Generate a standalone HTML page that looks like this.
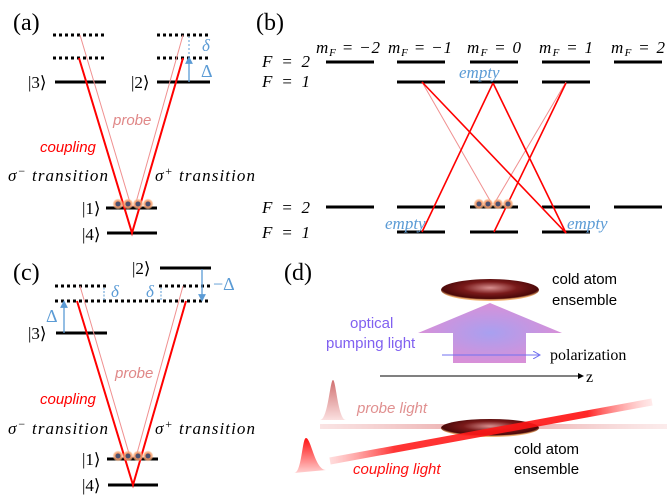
<!DOCTYPE html>
<html><head><meta charset="utf-8"><style>
html,body{margin:0;padding:0;background:#fff;width:667px;height:501px;overflow:hidden}
svg{display:block}
.s{font-family:"Liberation Serif",serif}
.m{font-family:"Liberation Serif",serif;font-style:italic;font-size:17px}
.k{font-family:"Liberation Serif",serif;font-size:17px}
.c{font-family:"Liberation Sans",sans-serif}
</style></head><body>
<svg width="667" height="501" viewBox="0 0 667 501" xmlns="http://www.w3.org/2000/svg">
<defs>
<radialGradient id="atom"><stop offset="0" stop-color="#4a5070"/><stop offset="0.4" stop-color="#4a5070"/><stop offset="0.5" stop-color="#f09060"/><stop offset="0.8" stop-color="#f8b080" stop-opacity="0.7"/><stop offset="1" stop-color="#f8c8a0" stop-opacity="0"/></radialGradient>
<radialGradient id="ell" cx="0.5" cy="0.4" r="0.55"><stop offset="0" stop-color="#d89090"/><stop offset="0.5" stop-color="#7a1a1a"/><stop offset="0.9" stop-color="#4a0808"/><stop offset="1" stop-color="#f0b070"/></radialGradient>
<radialGradient id="arr" cx="0.5" cy="0.5" r="0.5"><stop offset="0" stop-color="#a8a0f0"/><stop offset="1" stop-color="#d890d8"/></radialGradient>
<linearGradient id="probeG" x1="0" x2="1"><stop offset="0" stop-color="#f4c8c8" stop-opacity="0.5"/><stop offset="0.5" stop-color="#e8a0a0"/><stop offset="1" stop-color="#f8d8d8" stop-opacity="0.5"/></linearGradient>
<linearGradient id="coupG" x1="0" x2="1"><stop offset="0" stop-color="#ff8080" stop-opacity="0.3"/><stop offset="0.2" stop-color="#ff2020"/><stop offset="0.8" stop-color="#ff1010"/><stop offset="1" stop-color="#ffb0b0" stop-opacity="0.3"/></linearGradient>
<linearGradient id="pp" x1="0" y1="0" x2="0" y2="1"><stop offset="0" stop-color="#d07070"/><stop offset="1" stop-color="#fbe0e0"/></linearGradient>
<linearGradient id="cp" x1="0" y1="0" x2="0" y2="1"><stop offset="0" stop-color="#ff1010"/><stop offset="1" stop-color="#ffd0d0"/></linearGradient>
<marker id="ab" markerWidth="6" markerHeight="6" refX="3" refY="3" orient="auto"><path d="M0,0 L6,3 L0,6z" fill="#5b9bd5"/></marker>
<marker id="ak" markerWidth="6" markerHeight="6" refX="5" refY="3" orient="auto"><path d="M0,0 L6,3 L0,6z" fill="#000"/></marker>
<marker id="ap" markerWidth="8" markerHeight="8" refX="7" refY="4" orient="auto"><path d="M0,0 L7,4 L0,8" fill="none" stroke="#7070f0"/></marker>
</defs>

<!-- (a) -->
<text x="13" y="30" class="s" font-size="24">(a)</text>
<g stroke="#000" stroke-width="3" stroke-dasharray="3,3"><line x1="53" y1="35" x2="106" y2="35"/><line x1="157" y1="35" x2="210" y2="35"/><line x1="53" y1="58" x2="106" y2="58"/><line x1="157" y1="58" x2="210" y2="58"/></g>
<g stroke="#000" stroke-width="3"><line x1="55" y1="82" x2="106" y2="82"/><line x1="157" y1="82" x2="210" y2="82"/><line x1="106" y1="208" x2="157" y2="208"/><line x1="107" y1="233" x2="157" y2="233"/></g>
<line x1="189" y1="82" x2="189" y2="60" stroke="#5b9bd5" stroke-width="1.3" marker-end="url(#ab)"/>
<line x1="189" y1="58" x2="189" y2="37" stroke="#5b9bd5" stroke-width="1" stroke-dasharray="2,2"/>
<text x="202" y="51" class="m" fill="#5b9bd5" font-size="18">δ</text>
<text x="201" y="77" class="s" fill="#5b9bd5" font-size="18">Δ</text>
<text x="28" y="88" class="k">|3⟩</text><text x="131" y="88" class="k">|2⟩</text>
<text x="82" y="214" class="k">|1⟩</text><text x="82" y="240" class="k">|4⟩</text>
<g stroke="#f09090" stroke-width="1" fill="none"><polyline points="80,35 131,206 135,206 183,35"/></g>
<g stroke="#ff0000" stroke-width="2" fill="none"><polyline points="79,58 132,233 183,58"/></g>
<g fill="url(#atom)"><circle cx="118" cy="204" r="5.5"/><circle cx="128" cy="204" r="5.5"/><circle cx="138" cy="204" r="5.5"/><circle cx="148" cy="204" r="5.5"/></g>
<text x="113" y="125" class="c" font-style="italic" font-size="15" fill="#e08888">probe</text>
<text x="40" y="152" class="c" font-style="italic" font-size="15" fill="#ff0000">coupling</text>
<text x="8" y="181" class="m" textLength="100" lengthAdjust="spacing">σ<tspan dy="-6" font-size="12">−</tspan><tspan dy="6"> transition</tspan></text>
<text x="155" y="181" class="m" textLength="100" lengthAdjust="spacing">σ<tspan dy="-6" font-size="12">+</tspan><tspan dy="6"> transition</tspan></text>

<!-- (b) -->
<text x="256" y="30" class="s" font-size="24">(b)</text>
<g class="m"><text x="262" y="67" textLength="48">F = 2</text><text x="262" y="87" textLength="48">F = 1</text><text x="262" y="213" textLength="48">F = 2</text><text x="262" y="238" textLength="48">F = 1</text>
<text x="316" y="53" textLength="64" lengthAdjust="spacing">m<tspan font-size="11" dy="3">F</tspan><tspan dy="-3"> = −2</tspan></text>
<text x="388" y="53" textLength="64" lengthAdjust="spacing">m<tspan font-size="11" dy="3">F</tspan><tspan dy="-3"> = −1</tspan></text>
<text x="467" y="53" textLength="54" lengthAdjust="spacing">m<tspan font-size="11" dy="3">F</tspan><tspan dy="-3"> = 0</tspan></text>
<text x="539" y="53" textLength="54" lengthAdjust="spacing">m<tspan font-size="11" dy="3">F</tspan><tspan dy="-3"> = 1</tspan></text>
<text x="611" y="53" textLength="54" lengthAdjust="spacing">m<tspan font-size="11" dy="3">F</tspan><tspan dy="-3"> = 2</tspan></text></g>
<g stroke="#000" stroke-width="3">
<line x1="326" y1="62" x2="374" y2="62"/><line x1="397" y1="62" x2="445" y2="62"/><line x1="470" y1="62" x2="518" y2="62"/><line x1="542" y1="62" x2="590" y2="62"/><line x1="614" y1="62" x2="662" y2="62"/>
<line x1="397" y1="82" x2="445" y2="82"/><line x1="470" y1="82" x2="518" y2="82"/><line x1="542" y1="82" x2="590" y2="82"/>
<line x1="326" y1="207" x2="374" y2="207"/><line x1="397" y1="207" x2="445" y2="207"/><line x1="470" y1="207" x2="518" y2="207"/><line x1="542" y1="207" x2="590" y2="207"/><line x1="614" y1="207" x2="662" y2="207"/>
<line x1="397" y1="232" x2="445" y2="232"/><line x1="470" y1="232" x2="518" y2="232"/><line x1="542" y1="232" x2="590" y2="232"/></g>
<g stroke="#f09090" stroke-width="1"><line x1="422" y1="82" x2="492" y2="204"/><line x1="566" y1="82" x2="494" y2="204"/></g>
<g stroke="#ff0000" stroke-width="1.6"><line x1="422" y1="82" x2="566" y2="233"/><line x1="493" y1="83" x2="422" y2="232"/><line x1="493" y1="83" x2="566" y2="233"/><line x1="566" y1="83" x2="494" y2="232"/></g>
<g fill="url(#atom)"><circle cx="479" cy="204" r="5.5"/><circle cx="488" cy="204" r="5.5"/><circle cx="498" cy="204" r="5.5"/><circle cx="508" cy="204" r="5.5"/></g>
<g class="m" fill="#5b9bd5" font-size="13"><text x="459" y="78">empty</text><text x="385" y="229">empty</text><text x="567" y="229">empty</text></g>

<!-- (c) -->
<text x="13" y="280" class="s" font-size="24">(c)</text>
<g stroke="#000" stroke-width="3" stroke-dasharray="3,3"><line x1="55" y1="286" x2="106" y2="286"/><line x1="159" y1="286" x2="211" y2="286"/><line x1="55" y1="301" x2="210" y2="301"/></g>
<g stroke="#000" stroke-width="3"><line x1="160" y1="268" x2="211" y2="268"/><line x1="56" y1="333" x2="107" y2="333"/><line x1="107" y1="459" x2="158" y2="459"/><line x1="108" y1="485" x2="158" y2="485"/></g>
<line x1="64" y1="333" x2="64" y2="304" stroke="#5b9bd5" stroke-width="1.3" marker-end="url(#ab)"/>
<line x1="202" y1="269" x2="202" y2="298" stroke="#5b9bd5" stroke-width="1.3" marker-end="url(#ab)"/>
<line x1="104" y1="300" x2="104" y2="288" stroke="#5b9bd5" stroke-width="1" stroke-dasharray="2,1.5"/>
<line x1="161" y1="300" x2="161" y2="288" stroke="#5b9bd5" stroke-width="1" stroke-dasharray="2,1.5"/>
<text x="46" y="322" class="s" fill="#5b9bd5" font-size="18">Δ</text>
<text x="111" y="297" class="m" fill="#5b9bd5" font-size="18">δ</text>
<text x="146" y="297" class="m" fill="#5b9bd5" font-size="18">δ</text>
<text x="213" y="290" class="s" fill="#5b9bd5" font-size="18">−Δ</text>
<text x="28" y="339" class="k">|3⟩</text><text x="132" y="274" class="k">|2⟩</text>
<text x="82" y="465" class="k">|1⟩</text><text x="82" y="491" class="k">|4⟩</text>
<g stroke="#f09090" stroke-width="1" fill="none"><polyline points="80,286 130,457 136,457 183,286"/></g>
<g stroke="#ff0000" stroke-width="2" fill="none"><polyline points="77,301 133,485 186,301"/></g>
<g fill="url(#atom)"><circle cx="118" cy="456" r="5.5"/><circle cx="128" cy="456" r="5.5"/><circle cx="138" cy="456" r="5.5"/><circle cx="148" cy="456" r="5.5"/></g>
<text x="115" y="378" class="c" font-style="italic" font-size="15" fill="#e08888">probe</text>
<text x="40" y="404" class="c" font-style="italic" font-size="15" fill="#ff0000">coupling</text>
<text x="8" y="434" class="m" textLength="100" lengthAdjust="spacing">σ<tspan dy="-6" font-size="12">−</tspan><tspan dy="6"> transition</tspan></text>
<text x="155" y="434" class="m" textLength="100" lengthAdjust="spacing">σ<tspan dy="-6" font-size="12">+</tspan><tspan dy="6"> transition</tspan></text>

<!-- (d) -->
<text x="284" y="280" class="s" font-size="24">(d)</text>
<ellipse cx="490" cy="290" rx="49" ry="11" fill="url(#ell)"/>
<text x="552" y="284" class="c" font-size="15">cold atom</text>
<text x="552" y="305" class="c" font-size="15">ensemble</text>
<polygon points="490,303 418,333 453,333 453,363 526,363 526,333 562,333" fill="url(#arr)"/>
<text x="350" y="328" class="c" font-size="15" fill="#8060f0">optical</text>
<text x="326" y="348" class="c" font-size="15" fill="#8060f0">pumping light</text>
<line x1="442" y1="355" x2="540" y2="355" stroke="#7070f0" stroke-width="1" marker-end="url(#ap)"/>
<text x="550" y="360" class="s" font-size="16">polarization</text>
<line x1="380" y1="376" x2="583" y2="376" stroke="#000" stroke-width="1" marker-end="url(#ak)"/>
<text x="586" y="382" class="s" font-size="16">z</text>
<rect x="320" y="424" width="347" height="5" fill="url(#probeG)"/>
<path d="M320,420 C328,420 330,380 333,380 C336,380 338,420 346,420 Z" fill="url(#pp)"/>
<text x="357" y="413" class="c" font-style="italic" font-size="15" fill="#e09090">probe light</text>
<ellipse cx="490" cy="428" rx="49" ry="9" fill="url(#ell)"/>
<line x1="330" y1="461" x2="652" y2="402" stroke="url(#coupG)" stroke-width="7" opacity="0.9"/>
<path d="M294,473 C302,473 302,438 306,438 C311,438 315,470 326,470 Z" fill="url(#cp)"/>
<text x="353" y="474" class="c" font-style="italic" font-size="15" fill="#ff1010">coupling light</text>
<text x="514" y="454" class="c" font-size="15">cold atom</text>
<text x="514" y="474" class="c" font-size="15">ensemble</text>
</svg>
</body></html>
